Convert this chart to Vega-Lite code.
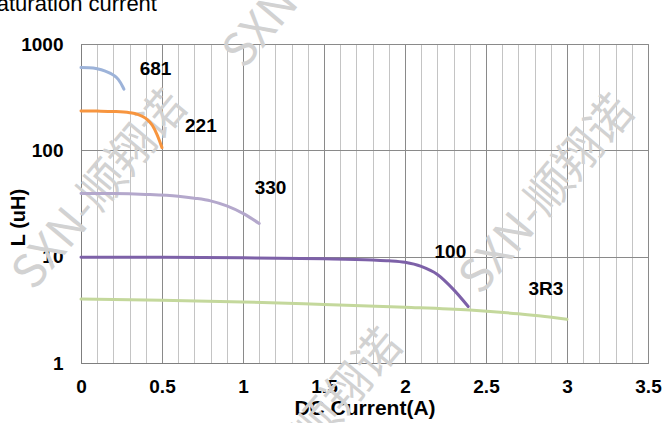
{
  "$schema": "https://vega.github.io/schema/vega-lite/v6.json",
  "width": 567,
  "height": 319,
  "autosize": {"type": "none"},
  "padding": {"left": 81, "top": 44, "right": 16, "bottom": 60},
  "background": "white",
  "config": {
    "font": "Liberation Sans",
    "view": {"stroke": "#7f7f7f", "strokeWidth": 1}
  },
  "title": {
    "text": "Inductance vs  DC Current Curve",
    "anchor": "start",
    "frame": "group",
    "dx": 87,
    "dy": 43,
    "fontSize": 16,
    "fontWeight": "bold",
    "color": "black",
    "offset": 8
  },
  "datasets": {
    "curves": [
      {"s": "681", "I": 0, "L": 600},
      {"s": "681", "I": 0.05, "L": 598},
      {"s": "681", "I": 0.1, "L": 585},
      {"s": "681", "I": 0.15, "L": 555},
      {"s": "681", "I": 0.2, "L": 510},
      {"s": "681", "I": 0.23, "L": 465},
      {"s": "681", "I": 0.26, "L": 390},
      {"s": "681", "I": 0.265, "L": 376},
      {"s": "221", "I": 0, "L": 235},
      {"s": "221", "I": 0.1, "L": 234},
      {"s": "221", "I": 0.2, "L": 232},
      {"s": "221", "I": 0.3, "L": 226},
      {"s": "221", "I": 0.35, "L": 218},
      {"s": "221", "I": 0.4, "L": 200},
      {"s": "221", "I": 0.44, "L": 172},
      {"s": "221", "I": 0.47, "L": 140},
      {"s": "221", "I": 0.5, "L": 106},
      {"s": "330", "I": 0, "L": 39.3},
      {"s": "330", "I": 0.2, "L": 39.2},
      {"s": "330", "I": 0.4, "L": 38.5},
      {"s": "330", "I": 0.6, "L": 37},
      {"s": "330", "I": 0.7, "L": 35.5},
      {"s": "330", "I": 0.8, "L": 33.5},
      {"s": "330", "I": 0.9, "L": 30},
      {"s": "330", "I": 1.0, "L": 25.5},
      {"s": "330", "I": 1.1, "L": 20.5},
      {"s": "100", "I": 0, "L": 9.9},
      {"s": "100", "I": 0.5, "L": 9.85},
      {"s": "100", "I": 1.0, "L": 9.75},
      {"s": "100", "I": 1.5, "L": 9.55},
      {"s": "100", "I": 1.8, "L": 9.3},
      {"s": "100", "I": 1.9, "L": 9.15},
      {"s": "100", "I": 2.0, "L": 8.85},
      {"s": "100", "I": 2.1, "L": 8.1},
      {"s": "100", "I": 2.2, "L": 6.8},
      {"s": "100", "I": 2.3, "L": 4.9},
      {"s": "100", "I": 2.39, "L": 3.4},
      {"s": "3R3", "I": 0, "L": 4.0},
      {"s": "3R3", "I": 0.5, "L": 3.9},
      {"s": "3R3", "I": 1.0, "L": 3.75},
      {"s": "3R3", "I": 1.5, "L": 3.55},
      {"s": "3R3", "I": 2.0, "L": 3.35},
      {"s": "3R3", "I": 2.4, "L": 3.15},
      {"s": "3R3", "I": 2.7, "L": 2.9},
      {"s": "3R3", "I": 3.0, "L": 2.58}
    ],
    "labels": [
      {"t": "681", "I": 0.46, "L": 581},
      {"t": "221", "I": 0.74, "L": 169},
      {"t": "330", "I": 1.17, "L": 44.5},
      {"t": "100", "I": 2.28, "L": 11.1},
      {"t": "3R3", "I": 2.87, "L": 4.96}
    ],
    "note": [
      {"t": "aturation current", "I": -0.52, "L": 2045}
    ],
    "watermark": [
      {"t": "SXN-顺翔诺", "I": 0.12, "L": 42},
      {"t": "SXN-顺翔诺", "I": 2.88, "L": 38},
      {"t": "SXN-顺翔诺", "I": 1.42, "L": 5070},
      {"t": "SXN-顺翔诺", "I": 1.45, "L": 0.24}
    ]
  },
  "encoding": {
    "x": {
      "field": "I",
      "type": "quantitative",
      "scale": {"domain": [0, 3.5], "nice": false, "zero": false},
      "axis": {
        "title": "DC Current(A)",
        "values": [0, 0.1, 0.2, 0.3, 0.4, 0.5, 0.6, 0.7, 0.8, 0.9, 1, 1.1, 1.2, 1.3, 1.4, 1.5, 1.6, 1.7, 1.8, 1.9, 2, 2.1, 2.2, 2.3, 2.4, 2.5, 2.6, 2.7, 2.8, 2.9, 3, 3.1, 3.2, 3.3, 3.4, 3.5],
        "labelExpr": "abs(datum.value*2 - round(datum.value*2)) < 0.001 ? format(datum.value, '~g') : ''",
        "grid": true,
        "gridColor": {"condition": {"test": "abs(datum.value*2 - round(datum.value*2)) < 0.001", "value": "#8a8a8a"}, "value": "#c4c4c4"},
        "gridWidth": 1,
        "ticks": false,
        "domainColor": "#7f7f7f",
        "labelFontSize": 19,
        "labelFontWeight": "bold",
        "labelColor": "black",
        "labelPadding": 14,
        "labelOverlap": false,
        "labelFlush": false,
        "labelBound": false,
        "titleFontSize": 21,
        "titleFontWeight": "bold",
        "titleColor": "black",
        "titlePadding": 1
      }
    },
    "y": {
      "field": "L",
      "type": "quantitative",
      "scale": {"type": "log", "domain": [1, 1000], "nice": false},
      "axis": {
        "title": "L (uH)",
        "values": [1, 10, 100, 1000],
        "format": "d",
        "grid": true,
        "gridColor": "#8a8a8a",
        "ticks": false,
        "domainColor": "#7f7f7f",
        "labelFontSize": 19,
        "labelFontWeight": "bold",
        "labelColor": "black",
        "labelPadding": 18,
        "labelOverlap": false,
        "titleFontSize": 20,
        "titleFontWeight": "bold",
        "titleColor": "black",
        "titleX": -63,
        "titleY": 173,
        "titleAngle": 270,
        "titleAlign": "center",
        "titleBaseline": "middle"
      }
    }
  },
  "layer": [
    {
      "data": {"name": "watermark"},
      "mark": {"type": "text", "font": "Noto Sans CJK SC", "fontSize": 46, "color": "#d2d2d2", "angle": -50, "align": "center", "baseline": "middle"},
      "encoding": {"text": {"field": "t"}}
    },
    {
      "data": {"name": "curves"},
      "mark": {"type": "line", "interpolate": "monotone", "strokeWidth": 3, "strokeCap": "round"},
      "encoding": {
        "color": {
          "field": "s",
          "type": "nominal",
          "scale": {"domain": ["681", "221", "330", "100", "3R3"], "range": ["#9db3d9", "#f7953f", "#b4a8cc", "#7d61a8", "#c4d89c"]},
          "legend": null
        }
      }
    },
    {
      "data": {"name": "labels"},
      "mark": {"type": "text", "fontSize": 19, "fontWeight": "bold", "color": "black", "align": "center", "baseline": "middle"},
      "encoding": {"text": {"field": "t"}}
    },
    {
      "data": {"name": "note"},
      "mark": {"type": "text", "fontSize": 22, "color": "black", "align": "left", "baseline": "alphabetic"},
      "encoding": {"text": {"field": "t"}}
    }
  ]
}
